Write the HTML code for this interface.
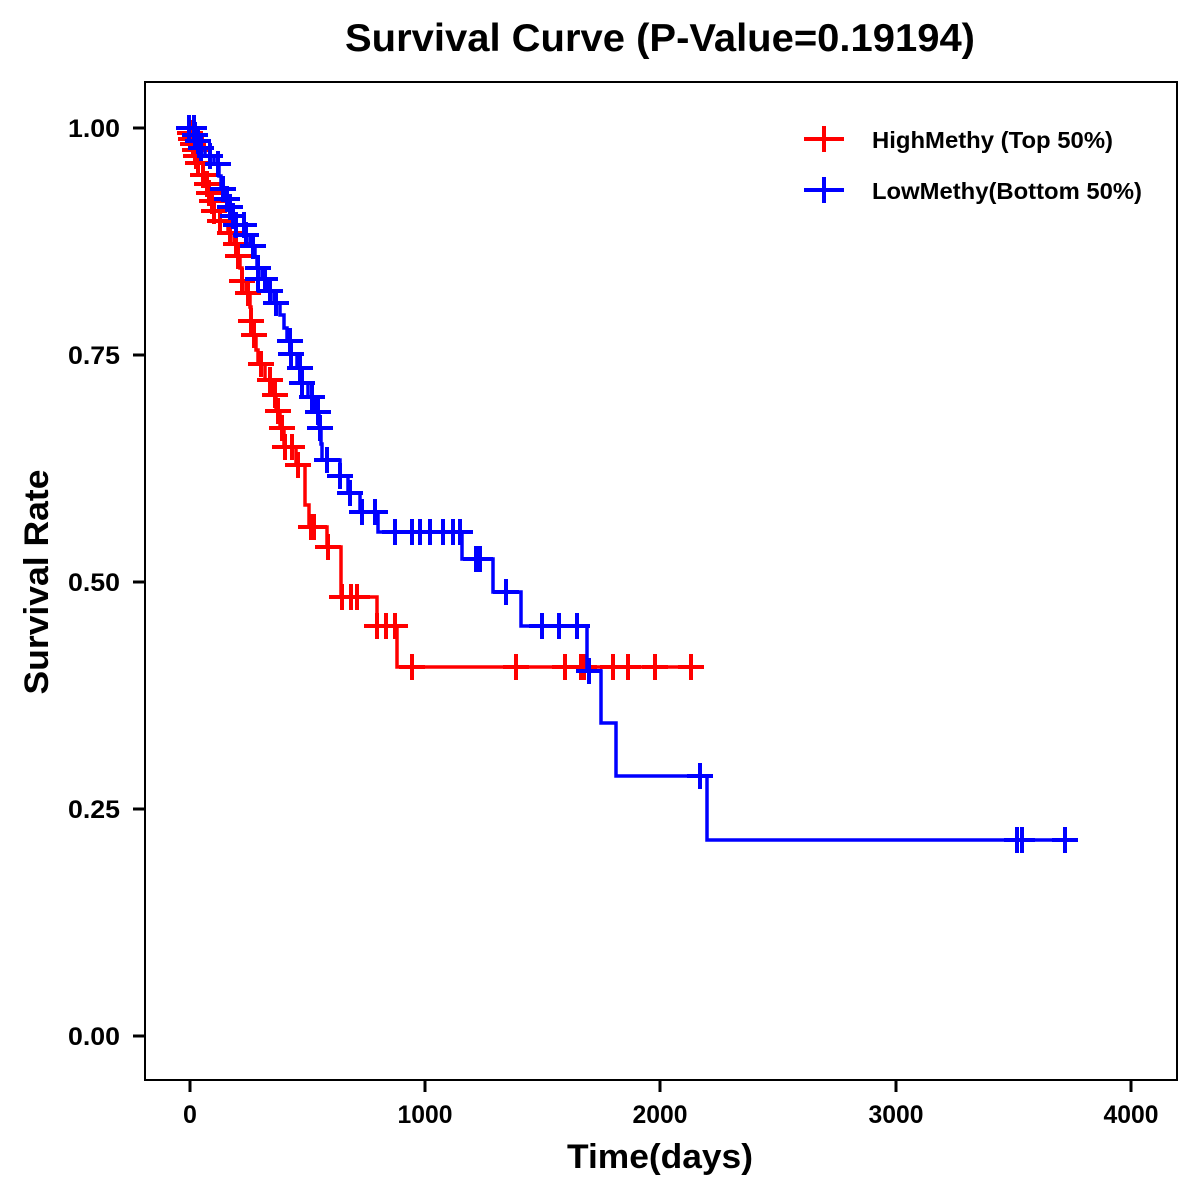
<!DOCTYPE html>
<html>
<head>
<meta charset="utf-8">
<style>
html,body{margin:0;padding:0;background:#fff;}
svg{display:block;}
text{font-family:"Liberation Sans",Arial,sans-serif;font-weight:bold;fill:#000;}
</style>
</head>
<body>
<svg width="1200" height="1200" viewBox="0 0 1200 1200" xmlns="http://www.w3.org/2000/svg">
<rect x="0" y="0" width="1200" height="1200" fill="#fff"/>
<text x="660" y="51" font-size="39" text-anchor="middle" textLength="630" lengthAdjust="spacingAndGlyphs">Survival Curve (P-Value=0.19194)</text>
<rect x="145" y="82" width="1032" height="998" fill="none" stroke="#000" stroke-width="2"/>
<g stroke="#000" stroke-width="3">
<line x1="133" y1="128" x2="145" y2="128"/>
<line x1="133" y1="355" x2="145" y2="355"/>
<line x1="133" y1="582" x2="145" y2="582"/>
<line x1="133" y1="809" x2="145" y2="809"/>
<line x1="133" y1="1036" x2="145" y2="1036"/>
<line x1="190" y1="1080" x2="190" y2="1092"/>
<line x1="425" y1="1080" x2="425" y2="1092"/>
<line x1="660" y1="1080" x2="660" y2="1092"/>
<line x1="896" y1="1080" x2="896" y2="1092"/>
<line x1="1131" y1="1080" x2="1131" y2="1092"/>
</g>
<g font-size="25" text-anchor="end">
<text x="120" y="137" textLength="52" lengthAdjust="spacingAndGlyphs">1.00</text>
<text x="120" y="364" textLength="52" lengthAdjust="spacingAndGlyphs">0.75</text>
<text x="120" y="591" textLength="52" lengthAdjust="spacingAndGlyphs">0.50</text>
<text x="120" y="818" textLength="52" lengthAdjust="spacingAndGlyphs">0.25</text>
<text x="120" y="1045" textLength="52" lengthAdjust="spacingAndGlyphs">0.00</text>
</g>
<g font-size="25" text-anchor="middle">
<text x="190" y="1123">0</text>
<text x="425" y="1123" textLength="55" lengthAdjust="spacingAndGlyphs">1000</text>
<text x="660" y="1123" textLength="55" lengthAdjust="spacingAndGlyphs">2000</text>
<text x="896" y="1123" textLength="55" lengthAdjust="spacingAndGlyphs">3000</text>
<text x="1131" y="1123" textLength="55" lengthAdjust="spacingAndGlyphs">4000</text>
</g>
<text x="660" y="1168" font-size="34" text-anchor="middle" textLength="186" lengthAdjust="spacingAndGlyphs">Time(days)</text>
<text transform="translate(48,582) rotate(-90)" x="0" y="0" font-size="34" text-anchor="middle" textLength="225" lengthAdjust="spacingAndGlyphs">Survival Rate</text>
<path fill="none" stroke="#ff0000" stroke-width="3.5" d="M190,128 V133 H191 V139 H193 V144 H195 V150 H196 V156 H198 V163 H203 V175 H207 V184 H209 V193 H212 V201 H214 V211 H220 V221 H228 V233 H234 V244 H237 V256 H240 V268 H242 V281 H246 V293 H250 V307 H251 V321 H253 V335 H256 V350 H258 V364 H265 V380 H272 V395 H276 V411 H280 V428 H284 V447 H296 V465 H305 V505 H309 V527 H327 V547 H341 V597 H377 V626 H397 V667 H703"/>
<path fill="none" stroke="#ff0000" stroke-width="4" d="M177,133h26M190,120v26M178,139h26M191,126v26M180,144h26M193,131v26M182,150h26M195,137v26M183,156h26M196,143v26M185,163h26M198,150v26M190,175h26M203,162v26M194,184h26M207,171v26M196,193h26M209,180v26M199,201h26M212,188v26M201,211h26M214,198v26M207,221h26M220,208v26M217,233h26M230,220v26M223,244h26M236,231v26M225,256h26M238,243v26M229,281h26M242,268v26M235,293h26M248,280v26M238,321h26M251,308v26M241,335h26M254,322v26M248,364h26M261,351v26M257,380h26M270,367v26M262,395h26M275,382v26M265,411h26M278,398v26M269,428h26M282,415v26M272,447h26M285,434v26M279,447h26M292,434v26M285,465h26M298,452v26M298,527h26M311,514v26M301,527h26M314,514v26M315,547h26M328,534v26M329,597h26M342,584v26M338,597h26M351,584v26M344,597h26M357,584v26M364,626h26M377,613v26M373,626h26M386,613v26M382,626h26M395,613v26M399,667h26M412,654v26M503,667h26M516,654v26M552,667h26M565,654v26M568,667h26M581,654v26M571,667h26M584,654v26M600,667h26M613,654v26M615,667h26M628,654v26M642,667h26M655,654v26M678,667h26M691,654v26"/>
<path fill="none" stroke="#0000ff" stroke-width="3.5" d="M190,128 H197 V135 H198 V141 H200 V148 H205 V156 H214 V164 H219 V176 H221 V189 H226 V199 H229 V207 H232 V216 H234 V225 H245 V235 H250 V246 H255 V257 H257 V268 H262 V279 H268 V291 H274 V303 H280 V315 H284 V328 H287 V341 H291 V354 H297 V368 H301 V383 H308 V397 H315 V412 H319 V428 H321 V444 H322 V460 H340 V476 H348 V493 H360 V512 H378 V532 H462 V559 H493 V592 H521 V626 H587 V671 H601 V723 H616 V776 H707 V840 H1077"/>
<path fill="none" stroke="#0000ff" stroke-width="4" d="M176,128h26M189,115v26M181,128h26M194,115v26M182,135h26M195,122v26M185,141h26M198,128v26M188,148h26M201,135v26M197,156h26M210,143v26M205,164h26M218,151v26M210,189h26M223,176v26M214,199h26M227,186v26M217,207h26M230,194v26M220,216h26M233,203v26M223,225h26M236,212v26M231,225h26M244,212v26M233,235h26M246,222v26M240,246h26M253,233v26M245,268h26M258,255v26M245,279h26M258,266v26M252,279h26M265,266v26M257,291h26M270,278v26M263,303h26M276,290v26M277,341h26M290,328v26M278,354h26M291,341v26M287,368h26M300,355v26M289,383h26M302,370v26M299,397h26M312,384v26M305,412h26M318,399v26M307,428h26M320,415v26M314,460h26M327,447v26M327,476h26M340,463v26M337,493h26M350,480v26M349,512h26M362,499v26M362,512h26M375,499v26M382,532h26M395,519v26M399,532h26M412,519v26M407,532h26M420,519v26M417,532h26M430,519v26M430,532h26M443,519v26M440,532h26M453,519v26M447,532h26M460,519v26M463,559h26M476,546v26M467,559h26M480,546v26M493,592h26M506,579v26M529,626h26M542,613v26M546,626h26M559,613v26M564,626h26M577,613v26M576,671h26M589,658v26M687,776h26M700,763v26M1004,840h26M1017,827v26M1009,840h26M1022,827v26M1052,840h26M1065,827v26"/>
<path fill="none" stroke="#ff0000" stroke-width="4" d="M804,139h40M824,126v26"/>
<path fill="none" stroke="#0000ff" stroke-width="4" d="M804,190h40M824,177v26"/>
<text x="872" y="148" font-size="23" textLength="241" lengthAdjust="spacingAndGlyphs">HighMethy (Top 50%)</text>
<text x="872" y="199" font-size="23" textLength="270" lengthAdjust="spacingAndGlyphs">LowMethy(Bottom 50%)</text>
</svg>
</body>
</html>
